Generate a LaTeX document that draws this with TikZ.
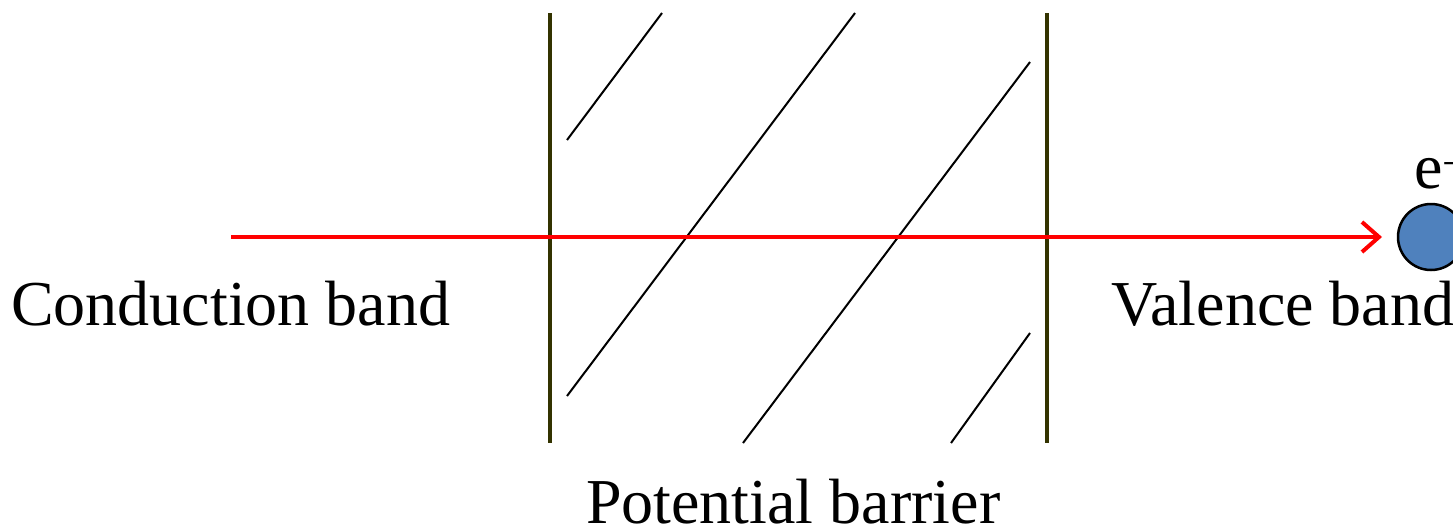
\documentclass[tikz,border=0pt]{standalone}
\usepackage{fontspec}
\setmainfont{Liberation Serif}
\usetikzlibrary{arrows.meta}
\definecolor{barcol}{HTML}{333300}
\definecolor{ballcol}{HTML}{4F81BD}
\begin{document}
\begin{tikzpicture}[x=1pt,y=-1pt,
  lbl/.style={anchor=base west,inner sep=0pt,font=\fontsize{64}{70}\selectfont},
  barline/.style={draw=barcol,line width=4.5pt},
  hatch/.style={draw=black,line width=2pt},
  ray/.style={draw=red,line width=4pt,-{Straight Barb[length=17pt,width=30pt,line width=4pt]}},
  ball/.style={circle,draw=black,line width=2.5pt,fill=ballcol,minimum size=66pt,inner sep=0pt}]
\useasboundingbox (0,0) rectangle (1453,528);
% barriers
\coordinate (b1t) at (550,13); \coordinate (b1b) at (550,443);
\coordinate (b2t) at (1047,13); \coordinate (b2b) at (1047,443);
\draw[barline] (b1t) -- (b1b);
\draw[barline] (b2t) -- (b2b);
% hatching
\coordinate (h1a) at (567,140); \coordinate (h1b) at (662,13);
\coordinate (h2a) at (567,396); \coordinate (h2b) at (855,13);
\coordinate (h3a) at (743,443); \coordinate (h3b) at (1030,62);
\coordinate (h4a) at (951,443); \coordinate (h4b) at (1030,333);
\draw[hatch] (h1a) -- (h1b);
\draw[hatch] (h2a) -- (h2b);
\draw[hatch] (h3a) -- (h3b);
\draw[hatch] (h4a) -- (h4b);
% electron
\node[ball] (electron) at (1431,237) {};
\node[lbl] (elabel) at (1414,188) {e\textsuperscript{−}};
% ray
\coordinate (start) at (231,237);
\coordinate (tip) at (1382,237);
\draw[ray] (start) -- (tip);
% labels
\node[lbl] (cb) at (11,325) {Conduction band};
\node[lbl] (vb) at (1111,325) {Valence band};
\node[lbl] (pb) at (586,523) {Potential barrier};
\end{tikzpicture}
\end{document}
